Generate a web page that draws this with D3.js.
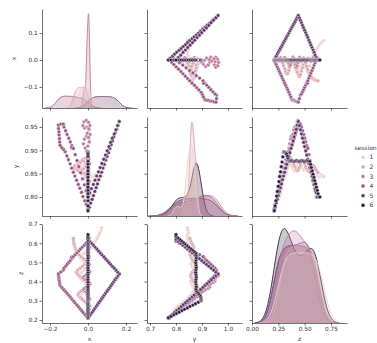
<!DOCTYPE html>
<html>
<head>
<meta charset="utf-8">
<script src="https://cdn.jsdelivr.net/npm/d3@7"></script>
<style>
  body { margin: 0; background: #fff; }
  text { font-family: "DejaVu Sans", sans-serif; }
</style>
</head>
<body>
<svg id="chart" width="377" height="343"></svg>
<script>
// hue levels and the cubehelix colours seaborn gives them
const sessionIds = [1, 2, 3, 4, 5, 6];
const sessionColors = ['#edd1cb', '#daa4ac', '#bd7a98', '#935685', '#613969', '#2d1e3e'];
const variables = ['x', 'y', 'z'];

// points per session, [x, y, z]
const session1 = [
  [0.005,0.795,0.250],[0.008,0.801,0.261],[0.011,0.808,0.272],[0.006,0.817,0.283],[-0.008,0.828,0.294],
  [-0.020,0.839,0.305],[-0.032,0.848,0.316],[-0.041,0.855,0.327],[-0.036,0.861,0.338],[-0.024,0.866,0.349],
  [-0.014,0.870,0.360],[-0.006,0.868,0.371],[-0.004,0.863,0.382],[-0.015,0.858,0.393],[-0.027,0.856,0.404],
  [-0.039,0.860,0.415],[-0.047,0.866,0.426],[-0.046,0.872,0.437],[-0.034,0.875,0.448],[-0.022,0.871,0.459],
  [-0.012,0.866,0.470],[-0.005,0.861,0.481],[-0.010,0.858,0.492],[-0.021,0.862,0.503],[-0.031,0.868,0.514],
  [-0.040,0.873,0.525],[-0.038,0.870,0.536],[-0.022,0.864,0.547],[-0.006,0.857,0.558],[0.008,0.851,0.569],
  [0.017,0.846,0.580],[0.024,0.843,0.591],[0.032,0.845,0.602],[0.040,0.848,0.613],[0.047,0.846,0.624],
  [0.053,0.843,0.635],[0.059,0.845,0.646],[0.064,0.848,0.657],[0.069,0.846,0.668],[0.072,0.844,0.680]
];
const session2 = [
  [0.002,0.832,0.270],[-0.004,0.838,0.280],[-0.012,0.845,0.290],[-0.022,0.851,0.300],[-0.033,0.856,0.310],
  [-0.044,0.861,0.320],[-0.052,0.866,0.330],[-0.049,0.872,0.340],[-0.038,0.877,0.350],[-0.026,0.881,0.360],
  [-0.015,0.883,0.370],[-0.006,0.880,0.380],[-0.002,0.874,0.390],[-0.010,0.868,0.400],[-0.021,0.863,0.410],
  [-0.033,0.859,0.420],[-0.045,0.856,0.430],[-0.055,0.858,0.440],[-0.061,0.863,0.450],[-0.054,0.869,0.460],
  [-0.041,0.874,0.470],[-0.029,0.878,0.480],[-0.017,0.876,0.490],[-0.009,0.871,0.500],[-0.012,0.865,0.510],
  [-0.024,0.860,0.520],[-0.036,0.857,0.530],[-0.047,0.855,0.540],[-0.056,0.858,0.550],[-0.062,0.862,0.560],
  [-0.066,0.866,0.570],[-0.069,0.868,0.580],[-0.072,0.865,0.590],[-0.074,0.861,0.600],[-0.076,0.857,0.612],
  [-0.077,0.853,0.625]
];
const session3 = [
  [0.004,0.795,0.240],[-0.003,0.805,0.248],[0.006,0.814,0.256],[-0.002,0.824,0.265],[0.008,0.833,0.273],
  [0.001,0.843,0.282],[-0.006,0.852,0.291],[0.003,0.862,0.300],[0.009,0.871,0.310],[-0.004,0.880,0.320],
  [0.002,0.889,0.330],[-0.008,0.897,0.340],[-0.015,0.905,0.350],[-0.024,0.914,0.358],[-0.019,0.924,0.365],
  [-0.008,0.930,0.372],[0.004,0.926,0.380],[0.011,0.934,0.388],[0.006,0.944,0.396],[-0.006,0.950,0.404],
  [-0.018,0.948,0.412],[-0.027,0.953,0.420],[-0.021,0.961,0.428],[-0.009,0.964,0.436],[0.003,0.960,0.444],
  [0.010,0.953,0.452],[0.004,0.946,0.460],[-0.004,0.937,0.470],[0.002,0.928,0.480],[0.007,0.918,0.490],
  [-0.001,0.909,0.500],[-0.007,0.899,0.510],[0.001,0.890,0.520],[0.006,0.880,0.530],[-0.002,0.871,0.540],
  [0.004,0.861,0.550],[-0.005,0.852,0.560],[0.002,0.843,0.570],[0.008,0.834,0.580],[0.000,0.826,0.590],
  [-0.006,0.818,0.600],[0.003,0.811,0.612],[0.007,0.806,0.625],[0.002,0.802,0.638]
];
const session4 = [
  [0.000,0.775,0.21],[-0.009,0.784,0.22],[-0.017,0.792,0.23],[-0.026,0.801,0.24],[-0.034,0.810,0.25],
  [-0.043,0.819,0.26],[-0.051,0.827,0.27],[-0.060,0.836,0.28],[-0.069,0.845,0.29],[-0.077,0.853,0.30],
  [-0.086,0.862,0.31],[-0.094,0.871,0.32],[-0.103,0.880,0.33],[-0.111,0.888,0.34],[-0.120,0.897,0.35],
  [-0.129,0.902,0.36],[-0.138,0.906,0.37],[-0.147,0.911,0.38],[-0.149,0.918,0.39],[-0.150,0.925,0.40],
  [-0.152,0.933,0.41],[-0.153,0.940,0.42],[-0.155,0.947,0.43],[-0.156,0.954,0.44],[-0.143,0.956,0.45],
  [-0.130,0.956,0.46],[-0.126,0.950,0.47],[-0.118,0.942,0.48],[-0.110,0.934,0.49],[-0.101,0.926,0.50],
  [-0.093,0.918,0.51],[-0.085,0.910,0.52],[-0.086,0.906,0.527],[-0.077,0.904,0.53],[-0.067,0.891,0.54],
  [-0.058,0.878,0.55],[-0.048,0.865,0.56],[-0.039,0.852,0.57],[-0.029,0.839,0.58],[-0.019,0.826,0.59],
  [-0.010,0.813,0.60],[0.000,0.800,0.61]
];
const session5 = [
  [0.000,0.770,0.21],[0.007,0.778,0.22],[0.014,0.787,0.23],[0.022,0.795,0.24],[0.029,0.803,0.25],
  [0.036,0.812,0.26],[0.043,0.820,0.27],[0.050,0.828,0.28],[0.057,0.837,0.29],[0.065,0.845,0.30],
  [0.072,0.853,0.31],[0.079,0.862,0.32],[0.086,0.870,0.33],[0.093,0.879,0.34],[0.100,0.887,0.35],
  [0.108,0.895,0.36],[0.115,0.904,0.37],[0.122,0.912,0.38],[0.129,0.920,0.39],[0.136,0.929,0.40],
  [0.143,0.937,0.41],[0.151,0.945,0.42],[0.158,0.954,0.43],[0.165,0.962,0.44],[0.156,0.953,0.45],
  [0.147,0.944,0.46],[0.138,0.935,0.47],[0.128,0.926,0.48],[0.119,0.917,0.49],[0.110,0.908,0.50],
  [0.101,0.899,0.51],[0.092,0.890,0.52],[0.083,0.881,0.53],[0.073,0.872,0.54],[0.064,0.863,0.55],
  [0.055,0.854,0.56],[0.046,0.845,0.57],[0.037,0.836,0.58],[0.028,0.827,0.59],[0.018,0.818,0.60],
  [0.009,0.809,0.61],[0.000,0.800,0.62]
];
const session6 = [
  [0,0.771,0.212],[0,0.781,0.219],[0,0.792,0.227],[0,0.802,0.234],[0,0.812,0.241],[0,0.823,0.249],
  [0,0.833,0.256],[0,0.844,0.263],[0,0.854,0.271],[0,0.865,0.278],[0,0.875,0.285],[0,0.886,0.293],
  [0,0.896,0.300],[0,0.897,0.305],[0,0.896,0.311],[0,0.895,0.317],[0,0.894,0.323],[0,0.892,0.329],
  [0,0.887,0.337],[0,0.882,0.345],[0,0.878,0.353],[0,0.877,0.362],[0,0.878,0.374],[0,0.877,0.387],
  [0,0.876,0.399],[0,0.877,0.412],[0,0.878,0.424],[0,0.877,0.437],[0,0.876,0.449],[0,0.877,0.462],
  [0,0.878,0.474],[0,0.877,0.487],[0,0.876,0.499],[0,0.877,0.512],[0,0.878,0.524],[0,0.877,0.537],
  [0,0.876,0.548],[0,0.870,0.556],[0,0.863,0.564],[0,0.856,0.572],[0,0.849,0.580],[0,0.842,0.588],
  [0,0.835,0.596],[0,0.828,0.604],[0,0.821,0.612],[0,0.814,0.620],[0,0.807,0.628],[0,0.800,0.636],
  [0,0.800,0.645]
];
const sessions = [session1, session2, session3, session4, session5, session6];

// axis ticks and limits, per variable
const colTicks = [[-0.2, 0, 0.2], [0.7, 0.8, 0.9, 1.0], [0, 0.25, 0.5, 0.75]];
const rowTicks = [[-0.1, 0, 0.1], [0.80, 0.85, 0.90, 0.95], [0.2, 0.3, 0.4, 0.5, 0.6, 0.7]];
const colFormats = ['.1f', '.1f', '.2f'];
const rowFormats = ['.1f', '.2f', '.1f'];
const colDomains = [[-0.242, 0.258], [0.6885, 1.054], [0, 0.902]];
const rowDomains = [[-0.178, 0.189], [0.7593, 0.9714], [0.1844, 0.7]];

// grid layout
const colLeft = [42, 147, 252];
const rowTop = [9, 117, 224];
const cellW = 95;
const cellH = 99;
const ylabelX = [13.5, 16, 20.5];

const svg = d3.select('#chart');
const defs = svg.append('defs');

// gaussian kde, scott bandwidth, like scipy
function kdeCurve(values, weight) {
  const n = values.length;
  const sd = d3.deviation(values);
  if (!sd) { return null; }
  const bw = sd * Math.pow(n, -0.2);
  const lo = d3.min(values) - 3 * bw;
  const hi = d3.max(values) + 3 * bw;
  const pts = [];
  for (let i = 0; i < 200; i++) {
    const g = lo + (hi - lo) * i / 199;
    const dens = d3.sum(values, v => Math.exp(-0.5 * ((g - v) / bw) ** 2)) / (n * bw * Math.sqrt(2 * Math.PI));
    pts.push([g, dens * weight]);
  }
  return pts;
}

const total = d3.sum(sessions, s => s.length);

for (let r = 0; r < 3; r++) {
  for (let c = 0; c < 3; c++) {
    const g = svg.append('g')
      .attr('transform', 'translate(' + colLeft[c] + ',' + rowTop[r] + ')');

    const clipId = 'clip' + r + c;
    defs.append('clipPath').attr('id', clipId)
      .append('rect').attr('width', cellW).attr('height', cellH);

    const xs = d3.scaleLinear().domain(colDomains[c]).range([0, cellW]);
    const ys = d3.scaleLinear().domain(rowDomains[r]).range([cellH, 0]);
    const plot = g.append('g').attr('clip-path', 'url(#' + clipId + ')');

    if (r === c) {
      // diagonal: density per session, drawn last-to-first
      const curves = sessions.map(s => kdeCurve(s.map(p => p[c]), s.length / total));
      const maxD = d3.max(curves, cv => cv ? d3.max(cv, d => d[1]) : 0);
      const ds = d3.scaleLinear().domain([0, maxD * 1.05]).range([cellH, 0]);
      const area = d3.area().x(d => xs(d[0])).y0(cellH).y1(d => ds(d[1]));
      const line = d3.line().x(d => xs(d[0])).y(d => ds(d[1]));
      for (let i = sessions.length - 1; i >= 0; i--) {
        if (!curves[i]) { continue; }
        plot.append('path').attr('d', area(curves[i]))
          .attr('fill', sessionColors[i]).attr('fill-opacity', 0.25);
        plot.append('path').attr('d', line(curves[i]))
          .attr('fill', 'none').attr('stroke', sessionColors[i]).attr('stroke-width', 0.9);
      }
    } else {
      sessions.forEach((s, i) => {
        plot.selectAll(null).data(s).enter().append('circle')
          .attr('cx', d => xs(d[c]))
          .attr('cy', d => ys(d[r]))
          .attr('r', 1.85)
          .attr('fill', sessionColors[i])
          .attr('stroke', '#fff')
          .attr('stroke-width', 0.45);
      });
    }

    const xAxis = d3.axisBottom(xs).tickValues(colTicks[c]).tickSize(2.5).tickSizeOuter(0).tickPadding(1.8)
      .tickFormat(r === 2 ? d3.format(colFormats[c]) : () => '');
    const yAxis = d3.axisLeft(ys).tickValues(rowTicks[r]).tickSize(2.5).tickSizeOuter(0).tickPadding(1.8)
      .tickFormat(c === 0 ? d3.format(rowFormats[r]) : () => '');

    const ax = g.append('g').attr('transform', 'translate(0,' + cellH + ')').call(xAxis);
    const ay = g.append('g').call(yAxis);
    [ax, ay].forEach(a => {
      a.attr('font-size', null).attr('font-family', null);
      a.selectAll('path.domain, line').attr('stroke', '#333').attr('stroke-width', 0.7);
      a.selectAll('text').attr('font-size', 5.8).attr('fill', '#333');
    });
  }
}

// axis titles
variables.forEach((v, i) => {
  svg.append('text')
    .attr('x', colLeft[i] + cellW / 2).attr('y', 340.5)
    .attr('text-anchor', 'middle').attr('font-size', 6).attr('fill', '#333')
    .text(v);
  svg.append('text')
    .attr('transform', 'translate(' + (ylabelX[i] + 2) + ',' + (rowTop[i] + cellH / 2) + ') rotate(-90)')
    .attr('text-anchor', 'middle').attr('font-size', 6).attr('fill', '#333')
    .text(v);
});

// legend
const legend = svg.append('g').attr('transform', 'translate(363,0)');
legend.append('text').attr('x', 2.5).attr('y', 150.3)
  .attr('text-anchor', 'middle').attr('font-size', 6).attr('fill', '#333')
  .text('session');
sessionIds.forEach((id, i) => {
  const cy = 157.3 + i * 9.6;
  legend.append('circle').attr('cx', 0).attr('cy', cy).attr('r', 2)
    .attr('fill', sessionColors[i]).attr('stroke', '#fff').attr('stroke-width', 0.45);
  legend.append('text').attr('x', 6.5).attr('y', cy + 2.1)
    .attr('font-size', 6).attr('fill', '#333')
    .text(id);
});
</script>
</body>
</html>
